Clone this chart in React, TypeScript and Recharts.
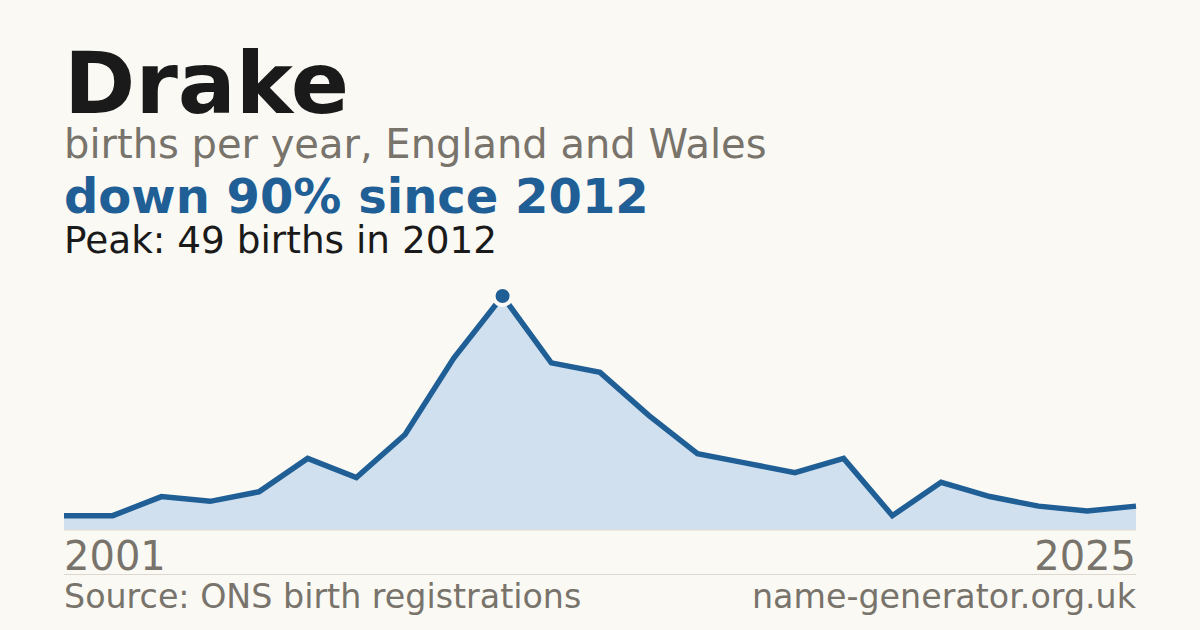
import React from "react";
import { AreaChart, Area, XAxis, YAxis, ReferenceDot } from "recharts";

const years = [2001, 2002, 2003, 2005, 2006, 2008, 2009, 2010, 2011, 2012, 2013, 2014, 2015, 2016, 2017, 2018, 2019, 2020, 2021, 2022, 2023, 2024, 2025];
const births = [3, 3, 7, 6, 8, 15, 11, 20, 36, 49, 35, 33, 24, 16, 14, 12, 15, 3, 10, 7, 5, 4, 5];
const peakYear = 2012;
const peakValue = 49;

const title = "Drake";
const subtitle = "births per year, England and Wales";
const headline = "down 90% since 2012";
const peakText = "Peak: 49 births in 2012";
const sourceText = "Source: ONS birth registrations";
const siteText = "name-generator.org.uk";

const BG = "#faf9f4";
const BLUE = "#1f5f96";
const GRAY = "#78736b";
const FONT = "'DejaVu Sans', Verdana, sans-serif";

const data = years.map((y, i) => ({ year: y, value: births[i] }));

const W = 1200;
const H = 630;

function Tick(props: any) {
  const { x, y, payload, index } = props;
  const last = years.length - 1;
  if (index !== 0 && index !== last) return null;
  return (
    <text
      x={x}
      y={y + 40}
      textAnchor={index === 0 ? "start" : "end"}
      fill={GRAY}
      fontSize={40}
      fontFamily={FONT}
    >
      {payload.value}
    </text>
  );
}

export default function App() {
  return (
    <div style={{ position: "fixed", left: 0, top: 0, width: W, height: H, background: BG, overflow: "hidden" }}>
      <AreaChart
        width={W}
        height={H}
        data={data}
        margin={{ top: 296, right: 64, bottom: 0, left: 64 }}
      >
        <XAxis
          dataKey="year"
          interval={0}
          tickLine={false}
          tickSize={0}
          tickMargin={0}
          axisLine={{ stroke: "#e2ddd2", strokeWidth: 1 }}
          tick={<Tick />}
          height={100}
        />
        <YAxis hide domain={[0, peakValue]} />
        <Area
          type="linear"
          dataKey="value"
          stroke={BLUE}
          strokeWidth={5.5}
          fill="#d0e0ef"
          fillOpacity={1}
          isAnimationActive={false}
          dot={false}
          activeDot={false}
        />
        <ReferenceDot
          x={peakYear}
          y={peakValue}
          r={9}
          fill={BLUE}
          stroke={BG}
          strokeWidth={4}
          isFront
        />
      </AreaChart>
      <svg
        width={W}
        height={H}
        style={{ position: "absolute", left: 0, top: 0, pointerEvents: "none" }}
      >
        <text x={64} y={113} fontSize={86} fontWeight="bold" fill="#1a1a1a" fontFamily={FONT}>{title}</text>
        <text x={64} y={158} fontSize={40} fill={GRAY} fontFamily={FONT}>{subtitle}</text>
        <text x={64} y={213} fontSize={48} fontWeight="bold" fill={BLUE} fontFamily={FONT}>{headline}</text>
        <text x={64} y={253} fontSize={37.4} fill="#1a1a1a" fontFamily={FONT}>{peakText}</text>
        <line x1={64} x2={1136} y1={574.5} y2={574.5} stroke="#dcd8d0" strokeWidth={1} />
        <text x={64} y={608} fontSize={33.3} fill={GRAY} fontFamily={FONT}>{sourceText}</text>
        <text x={1136} y={608} fontSize={33.3} fill={GRAY} fontFamily={FONT} textAnchor="end">{siteText}</text>
      </svg>
    </div>
  );
}
